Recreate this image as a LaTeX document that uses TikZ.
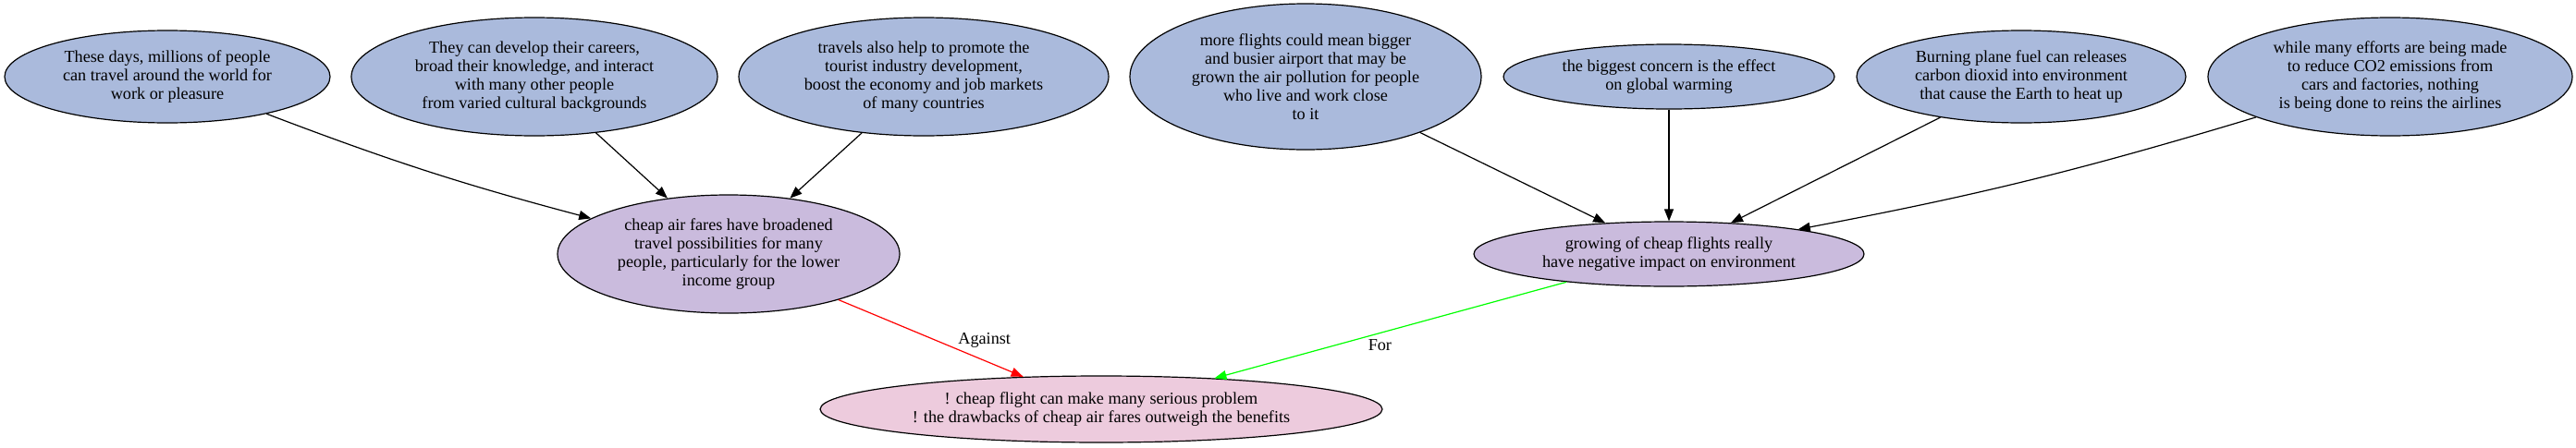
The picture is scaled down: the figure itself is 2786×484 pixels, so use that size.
\documentclass[tikz,border=0pt]{standalone}
\usepackage{fontspec}
\setmainfont{Liberation Serif}
\usepackage{tikz}
\usetikzlibrary{shapes.geometric, arrows.meta}
\usepackage{xcolor}

\definecolor{azul}{RGB}{170,186,220}
\definecolor{lila}{RGB}{202,187,221}
\definecolor{rosa}{RGB}{237,203,221}

\begin{document}
\begin{tikzpicture}[
    x=0.5pt, y=0.5pt,
    % Definimos el estilo de las elipses para no repetir codigo
    elip/.style={ellipse, draw, line width=0.6pt, inner sep=0pt, align=center,
      font=\fontsize{9.1}{10}\selectfont},
    razon/.style={elip, fill=azul},
    punto/.style={elip, fill=lila},
    concl/.style={elip, fill=rosa},
    flecha/.style={-{Triangle[length=6.5pt,width=5pt]}, line width=0.6pt},
    etiq/.style={text=black, font=\fontsize{9.1}{10}\selectfont}
  ]
  \useasboundingbox (0,0) rectangle (2786,484);

  % 1. Definimos las razones de arriba (r1 ... r7)
  \node[razon, minimum width=176pt, minimum height=50pt] (r1) at (181, 401)
    {These days, millions of people\\can travel around the world for\\work or pleasure};
  \node[razon, minimum width=198pt, minimum height=64pt] (r2) at (578, 401)
    {They can develop their careers,\\broad their knowledge, and interact\\with many other people\\from varied cultural backgrounds};
  \node[razon, minimum width=200pt, minimum height=64pt] (r3) at (999, 401)
    {travels also help to promote the\\tourist industry development,\\boost the economy and job markets\\of many countries};
  \node[razon, minimum width=190pt, minimum height=79pt] (r4) at (1412, 401)
    {more flights could mean bigger\\and busier airport that may be\\grown the air pollution for people\\who live and work close\\to it};
  \node[razon, minimum width=179pt, minimum height=35pt] (r5) at (1805, 401)
    {the biggest concern is the effect\\on global warming};
  \node[razon, minimum width=178pt, minimum height=50pt] (r6) at (2186, 401)
    {Burning plane fuel can releases\\carbon dioxid into environment\\that cause the Earth to heat up};
  \node[razon, minimum width=197pt, minimum height=64pt] (r7) at (2585, 401)
    {while many efforts are being made\\to reduce CO2 emissions from\\cars and factories, nothing\\is being done to reins the airlines};

  % 2. Definimos los dos puntos del medio y la conclusion
  \node[punto, minimum width=185pt, minimum height=64pt] (p1) at (788, 209)
    {cheap air fares have broadened\\travel possibilities for many\\people, particularly for the lower\\income group};
  \node[punto, minimum width=211pt, minimum height=35pt] (p2) at (1805, 209)
    {growing of cheap flights really\\have negative impact on environment};
  \node[concl, minimum width=304pt, minimum height=36pt] (c) at (1191, 41)
    {! cheap flight can make many serious problem\\! the drawbacks of cheap air fares outweigh the benefits};

  % 3. Dibujamos las conexiones (Edges)
  \draw[flecha] (r1) to[bend right=3] (p1);
  \draw[flecha] (r2) -- (p1);
  \draw[flecha] (r3) -- (p1);

  \draw[flecha] (r4) -- (p2);
  \draw[flecha] (r5) -- (p2);
  \draw[flecha] (r6) -- (p2);
  \draw[flecha] (r7) to[bend left=3] (p2);

  % Conexiones hacia la conclusion
  \draw[flecha, red] (p1) -- node[etiq, pos=0.76, above, xshift=3pt, yshift=2pt] {Against} (c);
  \draw[flecha, green] (p2) -- node[etiq, pos=0.53, below] {For} (c);

\end{tikzpicture}
\end{document}
